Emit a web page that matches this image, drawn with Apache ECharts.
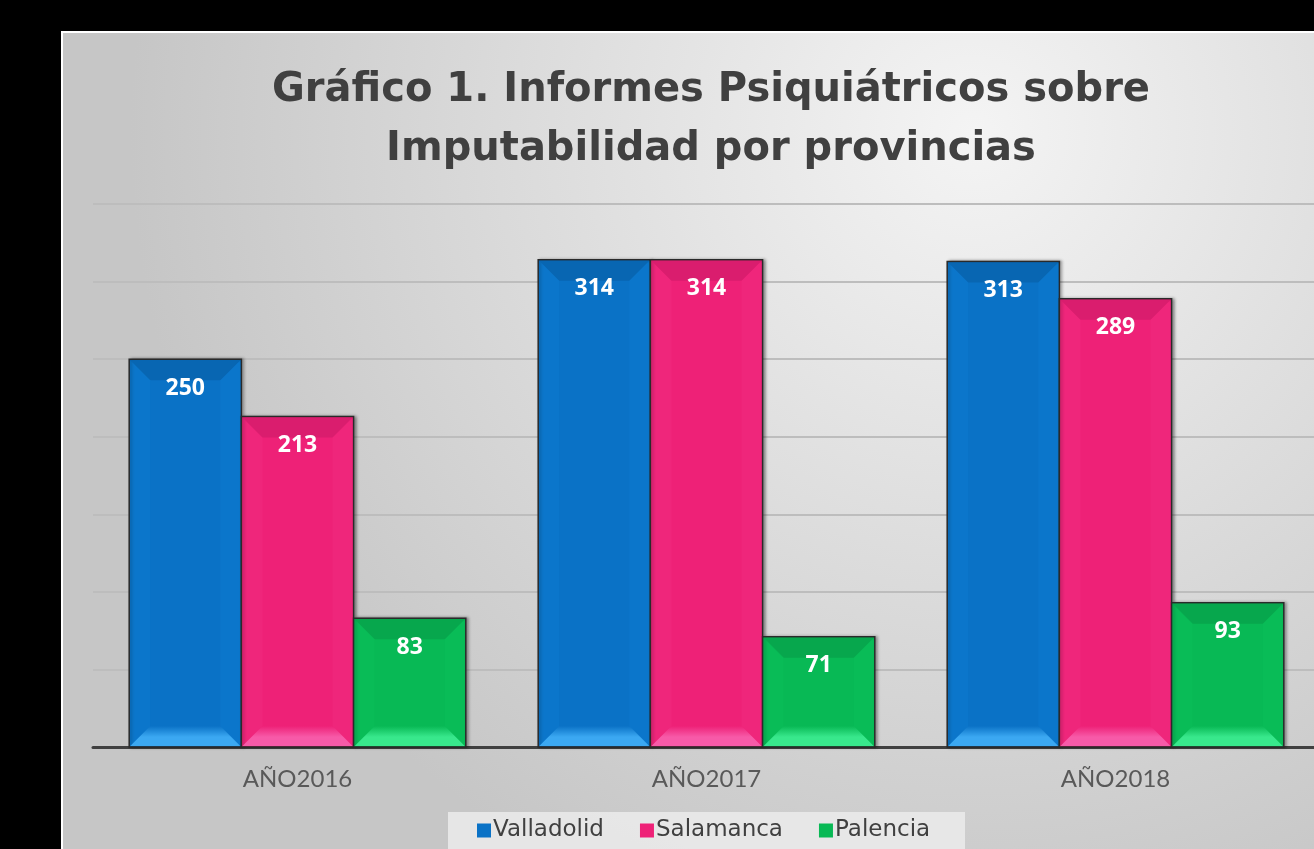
<!DOCTYPE html>
<html><head><meta charset="utf-8">
<script src="https://cdn.jsdelivr.net/npm/echarts@6/dist/echarts.min.js"></script>
<style>html,body{margin:0;padding:0;background:#000;overflow:hidden}#c{width:1330px;height:849px}</style>
</head><body><div id="c"></div>
<script>
const categories = ['AÑO2016', 'AÑO2017', 'AÑO2018'];
const valladolid = [250, 314, 313];
const salamanca = [213, 314, 289];
const palencia = [83, 71, 93];
const seriesNames = ['Valladolid', 'Salamanca', 'Palencia'];
const colors = ['#0A72C6', '#EE2177', '#08B955'];
const topShade = ['#0866B2', '#DA1D6E', '#07A74D'];
const bottomLight = ['#3BA8F2', '#F75AA8', '#38E88C'];
const sideLight = ['#1180D6', '#F23384', '#0CC45E'];

const data = [valladolid, salamanca, palencia];
const GAP = 0.177;

function makeRender(si) {
  return function (params, api) {
    const ci = api.value(0), v = api.value(1);
    const band = api.size([1, 0])[0];
    const bw = band * (1 - GAP) / 3;
    const base = api.coord([ci, 0]);
    const topPt = api.coord([ci, v]);
    const x0 = base[0] - 1.5 * bw + si * bw, x1 = x0 + bw;
    const y0 = topPt[1], y1 = base[1];
    const b = Math.min(21, (y1 - y0) / 2, bw / 2);
    return {
      type: 'group',
      children: [
        {type: 'rect', shape: {x: x0, y: y0, width: bw, height: y1 - y0},
         style: {fill: colors[si], stroke: '#2a2a2a', lineWidth: 1.5,
                 shadowColor: 'rgba(0,0,0,0.35)', shadowBlur: 3, shadowOffsetX: 2}},
        {type: 'polygon', shape: {points: [[x0 + 1, y0 + 1], [x1 - 1, y0 + 1], [x1 - b, y0 + b], [x0 + b, y0 + b]]},
         style: {fill: topShade[si]}},
        {type: 'polygon', shape: {points: [[x0 + 1, y1 - 1], [x1 - 1, y1 - 1], [x1 - b, y1 - b], [x0 + b, y1 - b]]},
         style: {fill: {type: 'linear', x: 0, y: 0, x2: 0, y2: 1,
                 colorStops: [{offset: 0, color: colors[si]}, {offset: 0.55, color: bottomLight[si]}, {offset: 1, color: bottomLight[si]}]}}},
        {type: 'polygon', shape: {points: [[x0 + 1, y0 + 1], [x0 + b, y0 + b], [x0 + b, y1 - b], [x0 + 1, y1 - 1]]},
         style: {fill: sideLight[si], opacity: 0.3}},
        {type: 'polygon', shape: {points: [[x1 - 1, y0 + 1], [x1 - b, y0 + b], [x1 - b, y1 - b], [x1 - 1, y1 - 1]]},
         style: {fill: sideLight[si], opacity: 0.3}},
        {type: 'text', style: {text: String(v), x: (x0 + x1) / 2, y: y0 + 29,
          align: 'center', verticalAlign: 'middle', fill: '#ffffff',
          font: 'bold 23px "Open Sans"'}}
      ]
    };
  };
}

const chart = echarts.init(document.getElementById('c'), null, {renderer: 'canvas'});
chart.setOption({
  backgroundColor: '#000',
  animation: false,
  color: colors,
  graphic: [{
    type: 'rect', z: -10, silent: true,
    shape: {x: 62, y: 32, width: 1300, height: 840},
    style: {
      fill: {
        type: 'radial', x: 0.7, y: 0.12, r: 1.0,
        colorStops: [{offset: 0, color: '#f4f4f4'}, {offset: 1, color: '#c6c6c6'}]
      },
      stroke: '#ffffff', lineWidth: 2
    }
  }, {
    type: 'rect', z: -5, silent: true,
    shape: {x: 448, y: 812, width: 517, height: 40},
    style: {fill: 'rgba(232,232,232,0.95)'}
  }],
  title: {
    text: 'Gráfico 1. Informes Psiquiátricos sobre\nImputabilidad por provincias',
    left: 706, top: 56, textAlign: 'center',
    textStyle: {fontFamily: 'DejaVu Sans', fontWeight: 'bold', fontSize: 40, color: '#404040', lineHeight: 59}
  },
  legend: {
    bottom: 2, left: 472,
    itemWidth: 14, itemHeight: 14, itemGap: 36,
    icon: 'rect',
    textStyle: {fontFamily: 'DejaVu Sans', fontSize: 23, color: '#404040', padding: [0, 0, 0, -3]},
    data: seriesNames
  },
  grid: {left: 93, top: 204, width: 1227, height: 543},
  xAxis: {
    type: 'category', data: categories,
    axisLine: {lineStyle: {color: '#404040', width: 3}},
    axisTick: {show: false},
    axisLabel: {fontFamily: 'Lato', fontSize: 24, color: '#595959', margin: 20}
  },
  yAxis: {
    type: 'value', min: 0, max: 350, interval: 50,
    axisLabel: {show: false}, axisLine: {show: false}, axisTick: {show: false},
    splitLine: {lineStyle: {color: '#bdbdbd', width: 2}}
  },
  series: seriesNames.map((n, i) => ({
    name: n, type: 'custom',
    itemStyle: {color: colors[i]},
    encode: {x: 0, y: 1},
    data: data[i].map((v, ci) => [ci, v]),
    renderItem: makeRender(i)
  }))
});
</script></body></html>
